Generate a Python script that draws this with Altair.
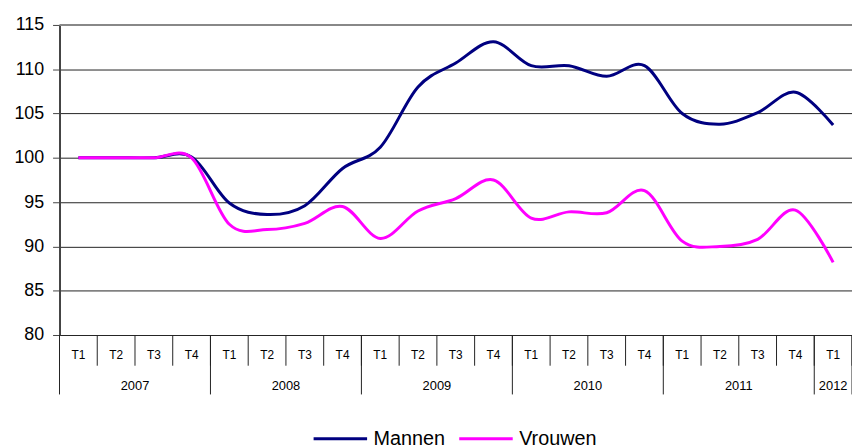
import altair as alt
import pandas as pd

# ---- data ----
quarters = ["T1", "T2", "T3", "T4"] * 5 + ["T1"]
years = ["2007", "2008", "2009", "2010", "2011", "2012"]
quarters_per_year = [4, 4, 4, 4, 4, 1]
series_names = ["Mannen", "Vrouwen"]
mannen = [100, 100, 100, 100.1, 94.9, 93.6, 94.6, 98.8, 101.2, 108.0, 110.7,
          113.1, 110.4, 110.4, 109.2, 110.4, 105.0, 103.8, 105.1, 107.4, 103.7]
vrouwen = [100, 100, 100, 100.0, 92.5, 91.9, 92.6, 94.5, 90.9, 94.0, 95.4,
           97.5, 93.2, 93.9, 93.8, 96.3, 90.6, 90.0, 90.8, 94.1, 88.2]
y_ticks = [80, 85, 90, 95, 100, 105, 110, 115]

FONT = "Liberation Sans"
n = len(quarters)
W, H = 800, 313

rows = []
for i in range(n):
    rows.append({"idx": i, "value": mannen[i], "serie": series_names[0]})
    rows.append({"idx": i, "value": vrouwen[i], "serie": series_names[1]})
df = pd.DataFrame(rows)

q_df = pd.DataFrame({"idx": list(range(n)), "label": quarters})
q_edges = pd.DataFrame({"edge": [k - 0.5 for k in range(n + 1)]})

y_edges, y_centers = [-0.5], []
start = -0.5
for c in quarters_per_year:
    end = start + c
    y_edges.append(end)
    y_centers.append((start + end) / 2)
    start = end
y_lab_df = pd.DataFrame({"center": y_centers, "label": years})
y_edge_df = pd.DataFrame({"edge": y_edges})

xscale = alt.Scale(domain=[-0.5, n - 0.5], nice=False, zero=False)
yscale = alt.Scale(domain=[80, 115], nice=False, zero=False)

yaxis = alt.Axis(values=y_ticks, title=None, grid=True, gridColor="#222",
                 gridWidth=1, domainColor="#444", domainWidth=2,
                 tickColor="#444", tickSize=7, tickWidth=1,
                 labelFont=FONT, labelFontSize=18, labelColor="black",
                 labelPadding=9)

lines = alt.Chart(df).mark_line(interpolate="cardinal", strokeWidth=3).encode(
    x=alt.X("idx:Q", scale=xscale, axis=None),
    y=alt.Y("value:Q", scale=yscale, axis=yaxis),
    color=alt.Color("serie:N",
                    scale=alt.Scale(domain=series_names, range=["#000080", "#FF00FF"]),
                    legend=alt.Legend(title=None, orient="none", legendX=255, legendY=389,
                                      direction="horizontal", symbolType="stroke",
                                      symbolStrokeWidth=3, symbolSize=2916,
                                      labelFont=FONT, labelFontSize=20, labelColor="black",
                                      labelOffset=5, columnPadding=7)),
)

top_line = alt.Chart(pd.DataFrame({"v": [115]})).mark_rule(color="#888", strokeWidth=2).encode(
    y=alt.Y("v:Q", scale=yscale, axis=yaxis), x=alt.value(0), x2=alt.value(W))

q_sep = alt.Chart(q_edges).mark_rule(color="#222", strokeWidth=1).encode(
    x=alt.X("edge:Q", scale=xscale, axis=None), y=alt.value(H), y2=alt.value(H + 31))

yr_sep = alt.Chart(y_edge_df).mark_rule(color="#222", strokeWidth=1).encode(
    x=alt.X("edge:Q", scale=xscale, axis=None), y=alt.value(H), y2=alt.value(H + 60))

q_text = alt.Chart(q_df).mark_text(font=FONT, fontSize=12, color="black",
                                   baseline="middle").encode(
    x=alt.X("idx:Q", scale=xscale, axis=None), y=alt.value(H + 20), text="label:N")

yr_text = alt.Chart(y_lab_df).mark_text(font=FONT, fontSize=13, color="black",
                                        baseline="middle").encode(
    x=alt.X("center:Q", scale=xscale, axis=None), y=alt.value(H + 52), text="label:N")

chart = alt.layer(lines, top_line, q_sep, yr_sep, q_text, yr_text).properties(
    width=W, height=H,
    autosize=alt.AutoSizeParams(type="none"),
    padding={"left": 52, "top": 15, "right": 0, "bottom": 116},
    background="white",
).configure_view(stroke=None)

chart.save("out.html", embed_options={"renderer": "svg", "actions": False})
